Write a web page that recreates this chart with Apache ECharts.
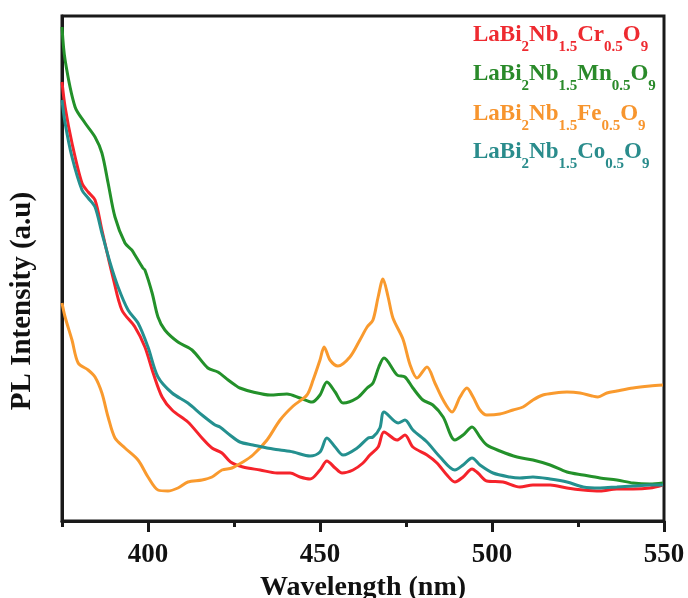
<!DOCTYPE html>
<html>
<head>
<meta charset="utf-8">
<script src="https://cdn.jsdelivr.net/npm/echarts@6/dist/echarts.min.js"></script>
<style>
  html, body { margin: 0; padding: 0; background: #ffffff; }
  #chart { width: 688px; height: 598px; }
</style>
</head>
<body>
<div id="chart"></div>
<script>
// PL emission spectra, [wavelength (nm), intensity (a.u.)]
const crSpectrum = [
  [375.0, 878], [375.9, 828], [377.9, 756], [380.8, 676], [382.6, 658], [384.6, 642],
  [386.6, 582], [388.4, 528], [389.8, 488], [392.4, 422], [396.2, 388], [399.1, 348],
  [401.5, 296], [404.1, 248], [407.0, 222], [411.6, 198], [415.7, 166], [418.6, 146],
  [421.5, 136], [424.0, 118], [427.6, 108], [432.6, 102], [437.5, 96], [441.3, 96],
  [444.2, 88], [447.1, 84], [450.0, 102], [452.0, 120], [454.4, 106], [456.4, 96],
  [459.6, 102], [462.5, 116], [464.5, 132], [466.9, 148], [468.6, 178], [472.4, 162],
  [474.7, 172], [477.0, 148], [481.1, 132], [484.0, 116], [486.9, 92], [489.2, 78],
  [491.6, 88], [494.2, 104], [495.9, 96], [498.5, 80], [503.2, 78], [508.1, 68],
  [511.9, 72], [516.9, 72], [521.8, 66], [526.5, 62], [531.4, 60], [536.3, 64],
  [541.0, 64], [545.9, 66], [549.7, 72]
];
const mnSpectrum = [
  [375.0, 988], [375.9, 922], [378.8, 828], [381.7, 796], [384.6, 768], [386.6, 736],
  [388.4, 676], [390.4, 608], [393.3, 556], [395.3, 542], [396.2, 532], [398.5, 506],
  [399.1, 502], [401.2, 456], [402.9, 408], [404.9, 382], [408.7, 358], [412.8, 342],
  [417.4, 306], [420.3, 298], [423.3, 282], [425.3, 272], [426.7, 266], [430.5, 258],
  [435.5, 252], [440.4, 254], [444.2, 246], [447.7, 238], [450.0, 252], [452.0, 278],
  [454.4, 258], [456.7, 236], [460.8, 246], [463.7, 266], [465.4, 276], [467.1, 308],
  [468.6, 326], [472.4, 292], [474.7, 288], [477.0, 266], [479.9, 242], [482.8, 232],
  [485.8, 208], [489.2, 162], [491.6, 172], [494.2, 188], [496.5, 168], [498.5, 152],
  [502.3, 140], [507.3, 128], [511.9, 122], [516.9, 112], [521.8, 98], [526.5, 92],
  [531.4, 86], [536.3, 82], [541.0, 76], [545.9, 74], [549.7, 76]
];
const feSpectrum = [
  [375.0, 436], [375.9, 408], [377.9, 362], [379.7, 316], [382.6, 302], [384.6, 288],
  [386.6, 256], [388.4, 208], [390.4, 166], [393.3, 146], [397.1, 122], [400.0, 88],
  [402.9, 62], [405.8, 60], [408.7, 66], [411.6, 78], [415.7, 82], [418.6, 88],
  [421.5, 102], [424.4, 106], [427.6, 118], [430.5, 132], [434.6, 162], [438.4, 202],
  [442.2, 230], [446.2, 252], [448.0, 282], [450.0, 322], [451.2, 348], [452.9, 322],
  [455.2, 310], [458.7, 328], [461.6, 362], [463.7, 388], [465.4, 402], [466.9, 448],
  [468.3, 484], [469.8, 448], [471.2, 406], [474.1, 364], [476.2, 312], [478.2, 286],
  [481.1, 308], [483.4, 276], [485.8, 242], [488.4, 218], [490.7, 248], [492.7, 266],
  [494.5, 248], [496.5, 222], [498.5, 212], [502.3, 214], [506.1, 222], [509.0, 228],
  [511.9, 242], [514.8, 252], [518.3, 256], [521.8, 258], [525.6, 256], [529.1, 250],
  [530.8, 248], [533.4, 256], [536.3, 260], [541.0, 266], [545.9, 270], [549.7, 272]
];
const coSpectrum = [
  [375.0, 842], [375.9, 796], [377.9, 728], [380.8, 662], [382.6, 646], [384.6, 628],
  [386.6, 576], [389.0, 516], [391.3, 468], [394.2, 422], [397.1, 396], [400.0, 348],
  [402.9, 288], [407.0, 256], [411.6, 236], [415.7, 212], [419.5, 192], [420.9, 188],
  [423.8, 172], [426.7, 158], [430.5, 152], [434.6, 146], [438.4, 142], [442.2, 138],
  [447.1, 130], [450.0, 138], [452.0, 166], [454.4, 148], [456.7, 132], [460.8, 146],
  [464.0, 166], [465.4, 168], [467.4, 186], [468.6, 218], [472.7, 196], [474.7, 202],
  [477.0, 182], [481.1, 158], [484.9, 128], [489.2, 102], [491.6, 112], [494.2, 126],
  [496.5, 112], [500.3, 96], [505.2, 88], [508.1, 86], [511.9, 88], [516.9, 84],
  [521.8, 78], [526.5, 68], [531.4, 66], [536.3, 68], [541.0, 70], [545.9, 72],
  [549.7, 72]
];

// Formula pieces: even index = normal text, odd index = subscript
const crFormula = ['LaBi', '2', 'Nb', '1.5', 'Cr', '0.5', 'O', '9'];
const mnFormula = ['LaBi', '2', 'Nb', '1.5', 'Mn', '0.5', 'O', '9'];
const feFormula = ['LaBi', '2', 'Nb', '1.5', 'Fe', '0.5', 'O', '9'];
const coFormula = ['LaBi', '2', 'Nb', '1.5', 'Co', '0.5', 'O', '9'];

const majorTicks = [400, 450, 500, 550];
const minorTicks = [375, 425, 475, 525];

const SERIF = '"Liberation Serif", "Times New Roman", Times, serif';
const AXIS_COLOR = '#1a1a1a';

const samples = [
  { formula: crFormula, data: crSpectrum, color: '#f5232b', text: '#ee2a30' },
  { formula: mnFormula, data: mnSpectrum, color: '#23912a', text: '#2a8a2a' },
  { formula: feFormula, data: feSpectrum, color: '#f99a2e', text: '#f7952e' },
  { formula: coFormula, data: coSpectrum, color: '#24908f', text: '#2a8c8c' }
];

function plainName(parts) { return parts.join(''); }

function richFormula(parts) {
  return parts.map((p, i) => (i % 2 === 0 ? '{m|' : '{s|') + p + '}').join('');
}

const legendRows = [35, 74, 114, 152];

const graphics = samples.map((s, i) => ({
  type: 'text',
  x: 473,
  y: legendRows[i],
  silent: true,
  style: {
    text: richFormula(s.formula),
    fill: s.text,
    verticalAlign: 'middle',
    align: 'left',
    rich: {
      m: { fontSize: 23, fontWeight: 'bold', fontFamily: SERIF, fill: s.text },
      s: { fontSize: 15, fontWeight: 'bold', fontFamily: SERIF, fill: s.text, padding: [24, 0, 0, 0] }
    }
  }
}));

graphics.push({
  type: 'text',
  x: 23,
  y: 301,
  rotation: Math.PI / 2,
  silent: true,
  style: {
    text: 'PL Intensity (a.u)',
    fill: '#111111',
    font: 'bold 29px ' + SERIF,
    align: 'center',
    verticalAlign: 'middle'
  }
});

const chart = echarts.init(document.getElementById('chart'), null, { renderer: 'canvas' });

chart.setOption({
  backgroundColor: '#ffffff',
  animation: false,
  grid: {
    left: 62, right: 24, top: 16, bottom: 77,
    outerBoundsMode: 'none',
    containLabel: false,
    show: true,
    borderColor: AXIS_COLOR,
    borderWidth: 3,
    backgroundColor: 'transparent'
  },
  xAxis: [
    {
      type: 'value',
      min: 375, max: 550, interval: 25,
      position: 'bottom',
      name: 'Wavelength (nm)',
      nameLocation: 'middle',
      nameGap: 51,
      nameTextStyle: { fontFamily: SERIF, fontWeight: 'bold', fontSize: 28, color: '#111111' },
      axisLine: { show: true, lineStyle: { color: AXIS_COLOR, width: 3 } },
      axisTick: { show: true, inside: false, length: 11, customValues: majorTicks,
                  lineStyle: { color: AXIS_COLOR, width: 3 } },
      axisLabel: { show: true, customValues: majorTicks, margin: 21,
                   fontFamily: SERIF, fontWeight: 'bold', fontSize: 27, color: '#111111' },
      splitLine: { show: false }
    },
    {
      type: 'value',
      min: 375, max: 550, interval: 25,
      position: 'bottom',
      axisLine: { show: false },
      axisTick: { show: true, inside: false, length: 6, customValues: minorTicks,
                  lineStyle: { color: AXIS_COLOR, width: 3 } },
      axisLabel: { show: false },
      splitLine: { show: false }
    }
  ],
  yAxis: {
    type: 'value',
    min: 0, max: 1010,
    axisLine: { show: true, lineStyle: { color: AXIS_COLOR, width: 3 } },
    axisTick: { show: false },
    axisLabel: { show: false },
    splitLine: { show: false }
  },
  series: samples.map(s => ({
    type: 'line',
    name: plainName(s.formula),
    data: s.data,
    xAxisIndex: 0,
    showSymbol: false,
    smooth: 0.3,
    clip: true,
    lineStyle: { color: s.color, width: 3 },
    itemStyle: { color: s.color }
  })),
  graphic: graphics
});
</script>
</body>
</html>
